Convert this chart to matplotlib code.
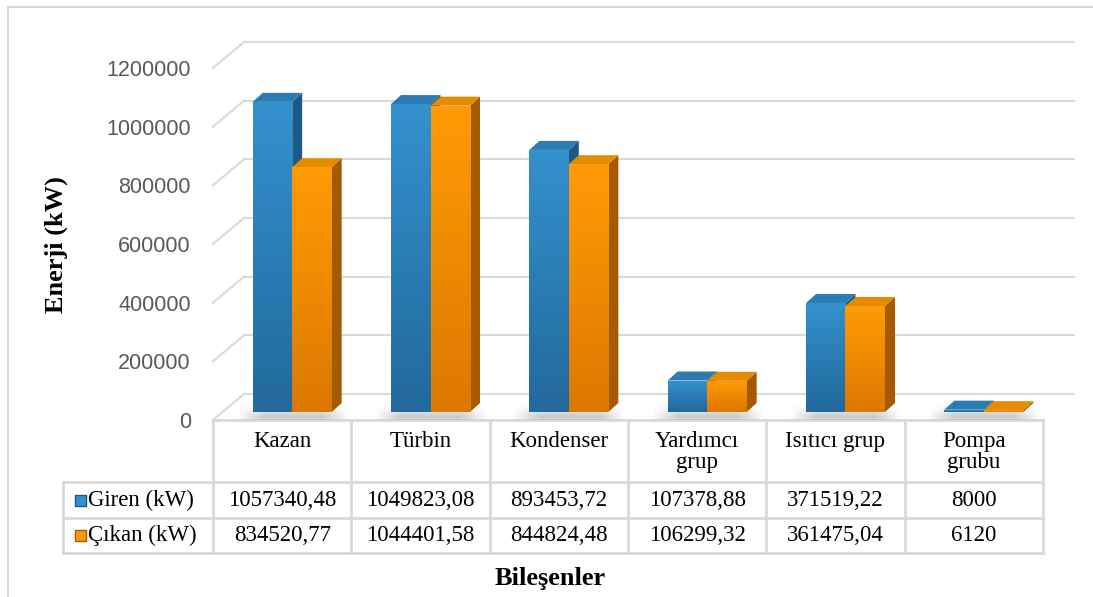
import numpy as np
import matplotlib.pyplot as plt
from matplotlib.patches import Polygon, Rectangle
from matplotlib.lines import Line2D
from matplotlib.colors import LinearSegmentedColormap

categories = ["Kazan", "Türbin", "Kondenser", "Yardımcı\ngrup", "Isıtıcı grup", "Pompa\ngrubu"]
series_names = ["Giren (kW)", "Çıkan (kW)"]
giren = [1057340.48, 1049823.08, 893453.72, 107378.88, 371519.22, 8000]
cikan = [834520.77, 1044401.58, 844824.48, 106299.32, 361475.04, 6120]
y_ticks = [0, 200000, 400000, 600000, 800000, 1000000, 1200000]


def tr_num(v):
    # turkish style decimal comma
    if float(v).is_integer():
        return str(int(v))
    return f"{v:.2f}".replace(".", ",")


W, H = 1093, 597
grid = "#d9d9d9"
serif = "Liberation Serif"

fig = plt.figure(figsize=(W / 100, H / 100), dpi=100)
ax = fig.add_axes([213 / W, (H - 420) / H, 830 / W, 352 / H])
ax.set_xlim(0, 6)
ax.set_ylim(0, 1.2e6)
for s in ax.spines.values():
    s.set_visible(False)
ax.set_xticks([])
ax.set_yticks(y_ticks)
ax.set_yticklabels([str(v) for v in y_ticks], fontsize=15.5, color="#595959",
                   family="Liberation Sans")
ax.tick_params(axis="y", length=0, pad=16)


def px(dx, dy):
    return dx * 6 / 830, dy * 1.2e6 / 352


# back wall / side gridlines
DX, DY = px(31, 26)
for v in y_ticks:
    ax.plot([0, DX], [v, v + DY], color=grid, lw=1.5, clip_on=False, zorder=1)
    ax.plot([DX, 6 + DX], [v + DY, v + DY], color=grid, lw=1.5, clip_on=False, zorder=1)

# bars
bw, _ = px(39.5, 0)
shift, base = px(10, 8)
ddx, ddy = px(10, 9)
x = np.arange(len(categories)) + 0.5

# soft shadow on the floor under each pair
gx = np.linspace(-1, 1, 120)
gy = np.linspace(0, 1, 30)
ax_x = np.clip(1.6 - 1.6 * np.abs(gx) ** 1.5, 0, 1)
ax_y = np.clip(1 - gy, 0, 1) ** 1.2 * np.clip(gy * 4, 0, 1)
shadow = np.zeros((30, 120, 4))
shadow[..., :3] = 0.3
shadow[..., 3] = 0.45 * np.outer(ax_y, ax_x)
for xi in x:
    p0 = xi + shift - bw
    p1 = xi + shift + bw + ddx
    ex, _ = px(16, 0)
    _, y0 = px(0, -2)
    _, y1 = px(0, 9)
    ax.imshow(shadow, origin="lower", extent=[p0 - ex, p1 + ex * 0.4, y0, base + y1],
              aspect="auto", zorder=1.5, interpolation="bilinear")

styles = [
    (giren, ["#22699c", "#3391ce"], "#1c5a85", "#2a7cb3", 2),
    (cikan, ["#dc7800", "#ff9b06"], "#a65a00", "#e68a00", 3),
]

for k, (vals, grad, side_c, top_c, z) in enumerate(styles):
    xs = x + shift + (k - 0.5) * bw
    bars = ax.bar(xs, vals, width=bw, bottom=base, color="none", zorder=z)
    cmap = LinearSegmentedColormap.from_list("g%d" % k, grad)
    for rect, v in zip(bars, vals):
        x0 = rect.get_x()
        x1 = x0 + rect.get_width()
        top = base + v
        ax.add_patch(Polygon([(x1, base), (x1 + ddx, base + ddy), (x1 + ddx, top + ddy), (x1, top)],
                             closed=True, color=side_c, lw=0, zorder=z))
        ax.add_patch(Polygon([(x0, top), (x1, top), (x1 + ddx, top + ddy), (x0 + ddx, top + ddy)],
                             closed=True, color=top_c, lw=0, zorder=z))
        im = ax.imshow(np.linspace(0, 1, 64).reshape(-1, 1), cmap=cmap, origin="lower",
                       extent=[x0, x1, base, top], aspect="auto", zorder=z + 0.1)
        im.set_clip_path(rect)

ax.set_xlim(0, 6)
ax.set_ylim(0, 1.2e6)

# data table below the plot
lab_x, _ = px(63 - 213, 0)
_, y_hdr = px(0, -62)
_, y_r1 = px(0, -98)
_, y_r2 = px(0, -133)
lk = dict(color=grid, lw=2, clip_on=False, zorder=1)
ax.plot([0, 6], [0, 0], **lk)
for yy in (y_hdr, y_r1, y_r2):
    ax.plot([lab_x, 6], [yy, yy], **lk)
for xx in range(7):
    ax.plot([xx, xx], [0, y_r2], **lk)
ax.plot([lab_x, lab_x], [y_hdr, y_r2], **lk)

_, y_txt = px(0, -11)
for xi, c in zip(x, categories):
    ax.text(xi, y_txt, c, ha="center", va="top", fontsize=16.5, family=serif,
            linespacing=1.0, clip_on=False)

rows = [(giren, (y_hdr + y_r1) / 2), (cikan, (y_r1 + y_r2) / 2)]
for (vals, yy), name, (_, grad, side_c, _, _) in zip(rows, series_names, styles):
    for xi, v in zip(x, vals):
        ax.text(xi, yy, tr_num(v), ha="center", va="center", fontsize=16.5,
                family=serif, clip_on=False)
    sx0, _ = px(75 - 213, 0)
    sw, sh = px(11, 11)
    ax.add_patch(Rectangle((sx0, yy - sh / 2), sw, sh, facecolor=grad[1],
                           edgecolor=side_c, lw=1, clip_on=False))
    tx, _ = px(88 - 213, 0)
    ax.text(tx, yy, name, ha="left", va="center", fontsize=16.5, family=serif,
            clip_on=False)

fig.text(56 / W, 1 - 245 / H, "Enerji (kW)", rotation=90, ha="center", va="center",
         fontsize=19, fontweight="bold", family=serif)
fig.text(550 / W, 1 - 578 / H, "Bileşenler", ha="center", va="center",
         fontsize=19, fontweight="bold", family=serif)

# outer chart border
fig.add_artist(Line2D([8 / W, 1], [1 - 7 / H, 1 - 7 / H], color=grid, lw=1.5))
fig.add_artist(Line2D([8 / W, 8 / W], [0, 1 - 7 / H], color=grid, lw=1.5))

fig.savefig("out.png", dpi=100)
